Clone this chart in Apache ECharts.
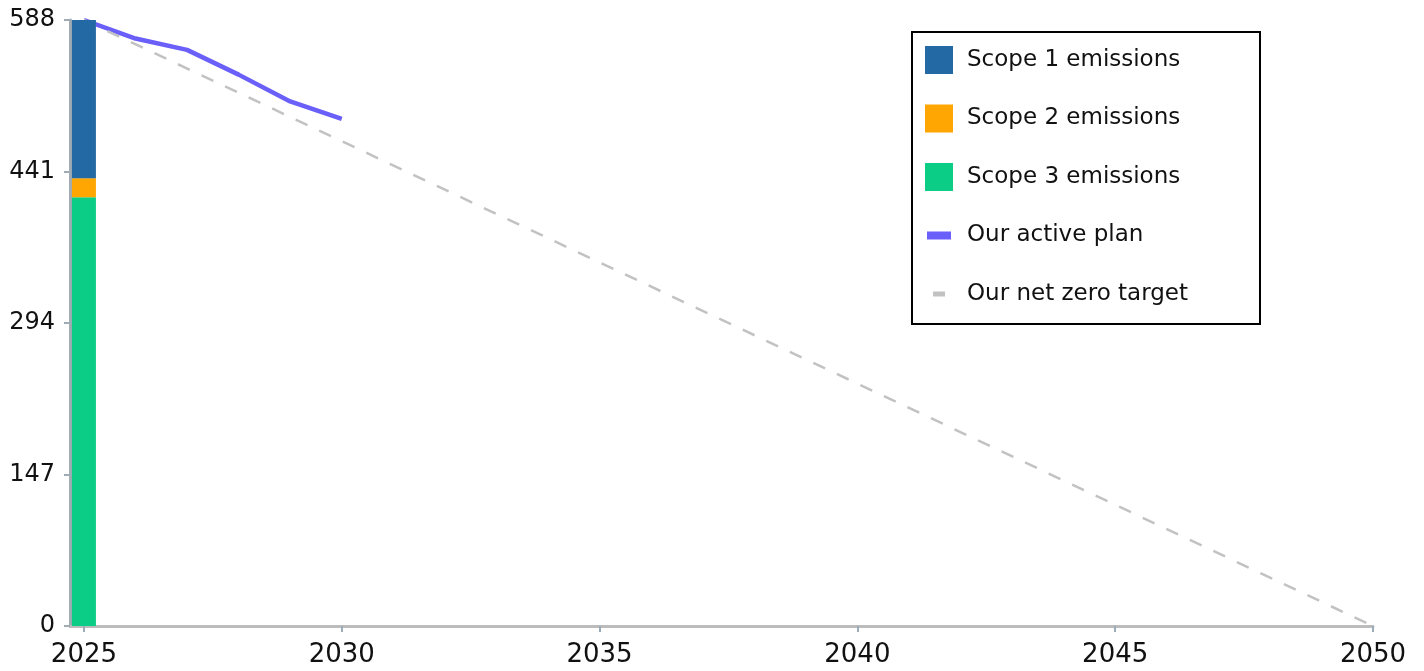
<!DOCTYPE html>
<html>
<head>
<meta charset="utf-8">
<script src="https://cdn.jsdelivr.net/npm/echarts@6/dist/echarts.min.js"></script>
<style>
html,body{margin:0;padding:0;background:#fff;}
#chart{width:1424px;height:671px;}
</style>
</head>
<body>
<div id="chart"></div>
<script>
// ---- data ----
const barYears = [2025];
const scope1 = [153.5];
const scope2 = [18.5];
const scope3 = [416];
const planYears = [2025, 2026, 2027, 2028, 2029, 2030];
const planValues = [588, 570, 559, 535, 509, 492];
const targetYears = [2025, 2050];
const targetValues = [588, 0];
const xTickValues = [2025, 2030, 2035, 2040, 2045, 2050];
const yMax = 588;
const yInterval = 147;
const seriesNames = ['Scope 1 emissions', 'Scope 2 emissions', 'Scope 3 emissions', 'Our active plan', 'Our net zero target'];

const pair = (xs, ys) => xs.map((x, i) => [x, ys[i]]);
// value first, year second (so that the value dimension is the stacked one)
const barPair = (xs, ys) => xs.map((x, i) => [ys[i], x]);
const FONT = 'DejaVu Sans';
const rectIcon = 'path://M0,0 L28,0 L28,28 L0,28 Z M37,28';
const planIcon = 'path://M0,0 M2,10 L26,10 L26,18 L2,18 Z M37,28';
const targetIcon = 'path://M0,0 M8,11.5 L20,11.5 L20,16.5 L8,16.5 Z M37,28';

const chart = echarts.init(document.getElementById('chart'));
chart.setOption({
  animation: false,
  backgroundColor: '#fff',
  textStyle: { fontFamily: FONT },
  grid: { left: 70, right: 51, top: 20, bottom: 45, containLabel: false },
  legend: {
    orient: 'vertical',
    left: 912, top: 32,
    itemWidth: 37, itemHeight: 28, itemGap: 30.5,
    padding: [14, 72, 16, 13],
    borderColor: '#000', borderWidth: 2, backgroundColor: '#fff',
    textStyle: { fontSize: 23, color: '#111', fontFamily: FONT },
    data: [
      { name: seriesNames[0], icon: rectIcon },
      { name: seriesNames[1], icon: rectIcon },
      { name: seriesNames[2], icon: rectIcon },
      { name: seriesNames[3], icon: planIcon, itemStyle: { color: '#6b5ffa', borderWidth: 0 } },
      { name: seriesNames[4], icon: targetIcon, itemStyle: { color: '#c2c2c2', borderWidth: 0 } }
    ]
  },
  xAxis: {
    type: 'value',
    min: 2024.73, max: 2050,
    splitLine: { show: false },
    axisLine: { show: true, onZero: false, lineStyle: { color: '#bcbcbc', width: 3 } },
    axisTick: { show: true, customValues: xTickValues, length: 6, lineStyle: { color: '#9cacb8', width: 2 } },
    axisLabel: { customValues: xTickValues, formatter: v => String(v), fontSize: 26, color: '#111', margin: 16, fontFamily: FONT }
  },
  yAxis: {
    type: 'value',
    min: 0, max: yMax, interval: yInterval,
    splitLine: { show: false },
    axisLine: { show: true, lineStyle: { color: '#a0abb3', width: 3 } },
    axisTick: { show: true, length: 6, lineStyle: { color: '#a0abb3', width: 2 } },
    axisLabel: { fontSize: 24, color: '#111', margin: 15, fontFamily: FONT }
  },
  series: [
    { name: seriesNames[3], type: 'line', z: 2, data: pair(planYears, planValues), showSymbol: false, symbol: 'none',
      lineStyle: { color: '#6b5ffa', width: 4.5 }, itemStyle: { color: '#6b5ffa' } },
    { name: seriesNames[4], type: 'line', z: 2, data: pair(targetYears, targetValues), showSymbol: false, symbol: 'none',
      lineStyle: { color: '#c2c2c2', width: 2.5, type: [13, 13] }, itemStyle: { color: '#c2c2c2' } },
    { name: seriesNames[2], type: 'bar', stack: 'total', z: 3, barWidth: 24, encode: { x: 1, y: 0 }, data: barPair(barYears, scope3), itemStyle: { color: '#0bcd86' } },
    { name: seriesNames[1], type: 'bar', stack: 'total', z: 3, barWidth: 24, encode: { x: 1, y: 0 }, data: barPair(barYears, scope2), itemStyle: { color: '#ffa602' } },
    { name: seriesNames[0], type: 'bar', stack: 'total', z: 3, barWidth: 24, encode: { x: 1, y: 0 }, data: barPair(barYears, scope1), itemStyle: { color: '#236aa5' } }
  ]
});
</script>
</body>
</html>
